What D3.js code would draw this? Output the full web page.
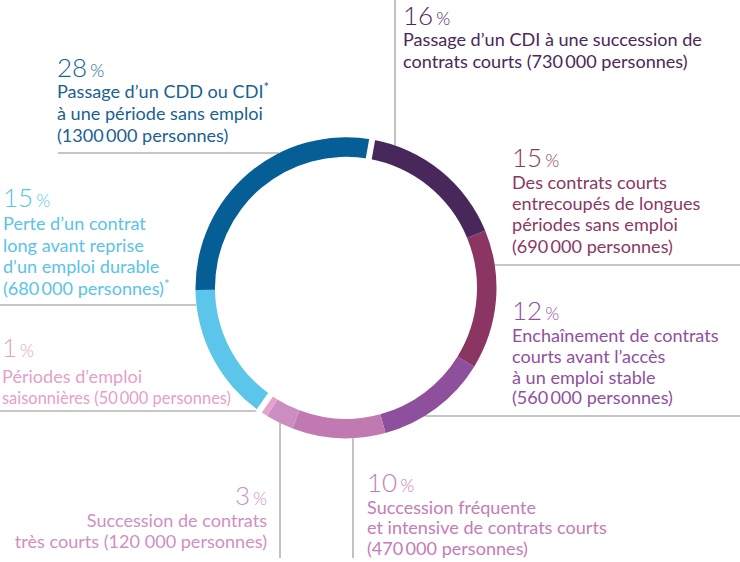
<!DOCTYPE html>
<html><head><meta charset="utf-8">
<script src="https://cdn.jsdelivr.net/npm/d3@7/dist/d3.min.js"></script>
<style>html,body{margin:0;padding:0;background:#fff}svg{display:block}</style>
</head><body>
<div id="chart"></div>
<script>
// ---------- data ----------
const categories = [
  "Passage d’un CDI à une succession de contrats courts",
  "Des contrats courts entrecoupés de longues périodes sans emploi",
  "Enchaînement de contrats courts avant l’accès à un emploi stable",
  "Succession fréquente et intensive de contrats courts",
  "Succession de contrats très courts",
  "Périodes d’emploi saisonnières",
  "Perte d’un contrat long avant reprise d’un emploi durable",
  "Passage d’un CDD ou CDI à une période sans emploi"
];
const shares = [16, 15, 12, 10, 3, 1, 15, 28];
const persons = ["730\u2009000", "690\u2009000", "560\u2009000", "470\u2009000", "120 000", "50\u2009000", "680\u2009000", "1300\u2009000"];
const labelLines = [
  ["Passage d’un CDI à une succession de", "contrats courts (730\u2009000 personnes)"],
  ["Des contrats courts", "entrecoupés de longues", "périodes sans emploi", "(690\u2009000 personnes)"],
  ["Enchaînement de contrats", "courts avant l’accès", "à un emploi stable", "(560\u2009000 personnes)"],
  ["Succession fréquente", "et intensive de contrats courts", "(470\u2009000 personnes)"],
  ["Succession de contrats", "très courts (120 000 personnes)"],
  ["Périodes d’emploi", "saisonnières (50\u2009000 personnes)"],
  ["Perte d’un contrat", "long avant reprise", "d’un emploi durable", "(680\u2009000 personnes)*"],
  ["Passage d’un CDD ou CDI*", "à une période sans emploi", "(1300\u2009000 personnes)"]
];

// ---------- styles ----------
const segColors = ["#48285a", "#8a3562", "#8e4f9c", "#c079b1", "#cc8dc1", "#e4a3cb", "#5bc5ea", "#065e97"];
const textColors = ["#4a2858", "#8b3763", "#8f50a0", "#c47cb6", "#cf8fc3", "#e59fc9", "#5ac3e8", "#1a5f94"];

// ---------- layout ----------
const W = 740, H = 562;
const cx = 346, cy = 287.8, R = 150.5, r = 131;
const startDeg = 10;
const layout = [
  {x: 403, y: 25, anchor: "start", first: 21, lh: 22, lead: {dir: "v", at: 395, from: 0, side: -1}},
  {x: 512, y: 167, anchor: "start", first: 22, lh: 21.2, lead: {dir: "h", at: 265, from: 740, side: 1}},
  {x: 512, y: 320, anchor: "start", first: 22, lh: 20.8, lead: {dir: "h", at: 416, from: 740, side: 1}},
  {x: 367, y: 492, anchor: "start", first: 21.5, lh: 20.5, lead: {dir: "v", at: 353, from: 558, side: 1}},
  {x: 267, y: 505, anchor: "end", first: 22, lh: 21, lead: {dir: "v", at: 280, from: 558, side: 1}},
  {x: 2, y: 357, anchor: "start", first: 26, lh: 21, maxW: 229, lead: {dir: "h", at: 411, from: 0, side: -1}},
  {x: 3, y: 207, anchor: "start", first: 23, lh: 21.5, lead: {dir: "h", at: 305, from: 0, side: -1}},
  {x: 57, y: 77, anchor: "start", first: 21, lh: 22, lead: {dir: "h", at: 153, from: 58, side: -1}}
];

const FONT = "Lato, 'Open Sans', sans-serif";
const svg = d3.select("#chart").append("svg").attr("width", W).attr("height", H)
  .attr("font-family", FONT);

// measure font to match reference text width
const probe = svg.append("text").attr("font-size", 18).text(labelLines[0][0]);
const measured = probe.node().getComputedTextLength();
probe.remove();
const textSize = Math.min(19, 18 * 299 / measured);

// leader lines
const leadG = svg.append("g").attr("stroke", "#b3b3b3").attr("stroke-width", 1.6);
layout.forEach(l => {
  const d = l.lead;
  if (d.dir === "v") {
    const yr = cy + d.side * Math.sqrt(R * R - (d.at - cx) ** 2);
    leadG.append("line").attr("x1", d.at).attr("x2", d.at).attr("y1", d.from).attr("y2", yr);
  } else {
    const xr = cx + d.side * Math.sqrt(R * R - (d.at - cy) ** 2);
    leadG.append("line").attr("y1", d.at).attr("y2", d.at).attr("x1", d.from).attr("x2", xr);
  }
});

// donut
const pie = d3.pie().sort(null).value(d => d)
  .startAngle(startDeg * Math.PI / 180).endAngle((startDeg + 360) * Math.PI / 180);
const arcs = pie(shares);
const arc = d3.arc().innerRadius(r).outerRadius(R);
const ring = svg.append("g").attr("transform", `translate(${cx},${cy})`);
ring.selectAll("path").data(arcs).join("path")
  .attr("d", arc).attr("fill", (d, i) => segColors[i]);

// white gaps: at start (between last and first) and between 1% and 15%
const gapAngles = [arcs[0].startAngle, arcs[6].startAngle];
gapAngles.forEach(a => {
  ring.append("line")
    .attr("x1", Math.sin(a) * (r - 2)).attr("y1", -Math.cos(a) * (r - 2))
    .attr("x2", Math.sin(a) * (R + 2)).attr("y2", -Math.cos(a) * (R + 2))
    .attr("stroke", "#fff").attr("stroke-width", 6);
});

// labels
layout.forEach((l, i) => {
  const g = svg.append("g").attr("fill", textColors[i]).attr("text-anchor", l.anchor);
  const num = g.append("text").attr("x", l.x).attr("y", l.y);
  num.append("tspan").attr("font-size", 26).attr("font-weight", 300).text(shares[i]);
  num.append("tspan").attr("font-size", 18).attr("font-weight", 300).attr("dx", 3).text("%");
  labelLines[i].forEach((line, j) => {
    const t = g.append("text").attr("x", l.x).attr("y", l.y + l.first + j * l.lh)
      .attr("font-size", textSize);
    const parts = line.split("*");
    parts.forEach((p, k) => {
      if (p) t.append("tspan").text(p);
      if (k < parts.length - 1) {
        t.append("tspan").attr("font-size", textSize * 0.72).attr("dy", -6).text("*");
      }
    });
    if (l.maxW) {
      const len = t.node().getComputedTextLength();
      if (len > l.maxW) t.attr("textLength", l.maxW).attr("lengthAdjust", "spacingAndGlyphs");
    }
  });
});
</script>
</body></html>
